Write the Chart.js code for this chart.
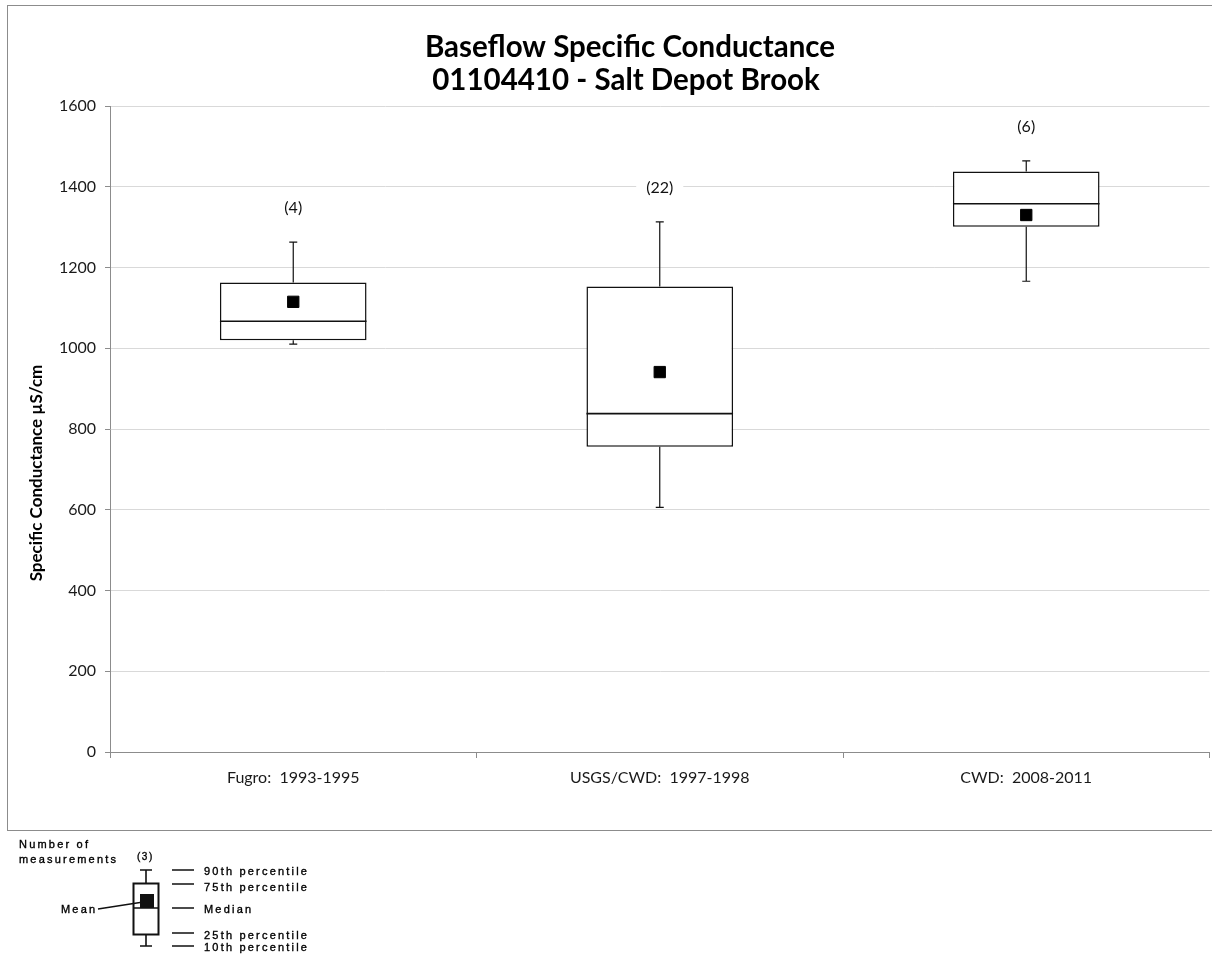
<!DOCTYPE html>
<html>
<head>
<meta charset="utf-8">
<title>Baseflow Specific Conductance</title>
<script src="https://cdn.jsdelivr.net/npm/chart.js@4/dist/chart.umd.min.js"></script>
<style>
  html, body { margin: 0; padding: 0; background: #fff; overflow: hidden; }
  canvas { display: block; }
</style>
</head>
<body>
<canvas id="boxChart" width="1212" height="959"></canvas>
<script>
// sampling periods
const categories = ["Fugro:  1993-1995", "USGS/CWD:  1997-1998", "CWD:  2008-2011"];

// percentiles (µS/cm)
const p10 = [1010, 606, 1166];
const p25 = [1020, 756, 1301];
const p50 = [1067, 838, 1358];
const p75 = [1163, 1153, 1438];
const p90 = [1263, 1313, 1464];
const means = [1115, 941, 1330];

// number of measurements per period
const counts = [4, 22, 6];

const yMin = 0;
const yMax = 1600;
const yStep = 200;

const titleLines = ["Baseflow Specific Conductance", "01104410 - Salt Depot Brook"];
const yTitle = "Specific Conductance µS/cm";

// whiskers, median line and sample counts on top of the boxes
const boxExtras = {
    id: "boxExtras",
    afterDatasetsDraw(chart) {
        const ctx = chart.ctx;
        const y = chart.scales.y;
        const meta = chart.getDatasetMeta(0);
        ctx.save();
        meta.data.forEach((bar, i) => {
            const cx = bar.x;
            const half = bar.width / 2;
            const yTop = y.getPixelForValue(p90[i]);
            const yBot = y.getPixelForValue(p10[i]);
            const yQ3 = y.getPixelForValue(p75[i]);
            const yQ1 = y.getPixelForValue(p25[i]);
            const yMed = y.getPixelForValue(p50[i]);

            ctx.strokeStyle = "#111";
            ctx.lineWidth = 1.2;
            ctx.beginPath();
            ctx.moveTo(cx, yQ3); ctx.lineTo(cx, yTop);
            ctx.moveTo(cx - 4, yTop); ctx.lineTo(cx + 4, yTop);
            ctx.moveTo(cx, yQ1); ctx.lineTo(cx, yBot);
            ctx.moveTo(cx - 4, yBot); ctx.lineTo(cx + 4, yBot);
            ctx.stroke();

            ctx.lineWidth = 1.6;
            ctx.beginPath();
            ctx.moveTo(cx - half, yMed); ctx.lineTo(cx + half, yMed);
            ctx.stroke();

            // count label, with a white patch so gridlines don't run through it
            const label = "(" + counts[i] + ")";
            ctx.font = '16px Lato';
            const w = ctx.measureText(label).width;
            const ly = yTop - 34;
            ctx.fillStyle = "#fff";
            ctx.fillRect(cx - w / 2 - 10, ly - 9, w + 20, 18);
            ctx.fillStyle = "#111";
            ctx.textAlign = "center";
            ctx.textBaseline = "middle";
            ctx.fillText(label, cx, ly);
        });
        ctx.restore();
    }
};

// white page, outer frame, titles and the key underneath
const frame = {
    id: "frame",
    beforeDraw(chart) {
        const ctx = chart.ctx;
        ctx.save();
        ctx.fillStyle = "#fff";
        ctx.fillRect(0, 0, chart.width, chart.height);
        ctx.strokeStyle = "#8c8c8c";
        ctx.lineWidth = 1;
        ctx.strokeRect(7.5, 5.5, chart.width + 40, 825);
        ctx.restore();
    },
    afterDraw(chart) {
        const ctx = chart.ctx;
        ctx.save();
        ctx.fillStyle = "#000";
        ctx.font = 'bold 29.5px Lato';
        ctx.textAlign = "center";
        ctx.textBaseline = "alphabetic";
        ctx.fillText(titleLines[0], 630, 57);
        ctx.fillText(titleLines[1], 626, 90);

        // axis title sits a little below the plot's middle
        ctx.translate(42, 473);
        ctx.rotate(-Math.PI / 2);
        ctx.font = 'bold 17px Lato';
        ctx.fillText(yTitle, 0, 0);
        ctx.restore();
        drawKey(ctx);
    }
};

function drawKey(ctx) {
    ctx.save();
    ctx.fillStyle = "#000";
    ctx.strokeStyle = "#000";
    ctx.lineWidth = 0.35;
    ctx.font = '11px "Liberation Sans"';
    ctx.letterSpacing = "2.2px";
    ctx.textAlign = "left";
    ctx.textBaseline = "alphabetic";
    const text = (s, x, y) => { ctx.fillText(s, x, y); ctx.strokeText(s, x, y); };
    text("Number of", 19, 848);
    text("measurements", 19, 862.5);
    text("Mean", 61, 913);
    text("90th percentile", 204, 875);
    text("75th percentile", 204, 890.5);
    text("Median", 204, 913);
    text("25th percentile", 204, 939);
    text("10th percentile", 204, 951);
    ctx.font = '10px "Liberation Sans"';
    ctx.letterSpacing = "1.5px";
    text("(3)", 137, 860);

    ctx.strokeStyle = "#111";
    ctx.lineWidth = 1.6;
    ctx.beginPath();
    ctx.moveTo(140, 870); ctx.lineTo(152, 870);
    ctx.moveTo(146, 870); ctx.lineTo(146, 883);
    ctx.moveTo(146, 934); ctx.lineTo(146, 946);
    ctx.moveTo(140, 946); ctx.lineTo(152, 946);
    ctx.moveTo(133.5, 908); ctx.lineTo(158.5, 908);
    ctx.stroke();
    ctx.lineWidth = 2;
    ctx.strokeRect(133.5, 883.5, 25, 51);
    ctx.fillStyle = "#111";
    ctx.fillRect(140, 894, 14, 14);

    ctx.lineWidth = 1.3;
    ctx.beginPath();
    ctx.moveTo(98, 909); ctx.lineTo(140, 902.5);
    [870, 884, 908, 933, 946].forEach(v => {
        ctx.moveTo(172, v); ctx.lineTo(194, v);
    });
    ctx.stroke();
    ctx.restore();
}

const ctx = document.getElementById("boxChart").getContext("2d");

new Chart(ctx, {
    type: "bar",
    data: {
        labels: categories,
        datasets: [
            {
                // interquartile box
                type: "bar",
                data: categories.map((_, i) => [p25[i], p75[i]]),
                backgroundColor: "#fff",
                borderColor: "#111",
                borderWidth: 1.5,
                borderSkipped: false,
                barPercentage: 0.4,
                categoryPercentage: 1,
                order: 2
            },
            {
                // mean
                type: "line",
                data: means,
                showLine: false,
                pointStyle: "rect",
                pointRadius: 8,
                pointBackgroundColor: "#000",
                pointBorderColor: "#000",
                pointBorderWidth: 1,
                order: 1
            }
        ]
    },
    options: {
        responsive: false,
        animation: false,
        events: [],
        layout: {
            autoPadding: false,
            padding: { left: 0, top: 106, right: 2.5, bottom: 150 }
        },
        plugins: {
            legend: { display: false },
            tooltip: { enabled: false },
            title: { display: false }
        },
        scales: {
            x: {
                offset: true,
                grid: {
                    offset: true,
                    drawOnChartArea: false,
                    drawTicks: true,
                    tickLength: 6,
                    tickColor: "#8c8c8c"
                },
                border: { color: "#8c8c8c", width: 1 },
                ticks: {
                    color: "#1a1a1a",
                    font: { family: "Lato", size: 16 },
                    padding: 10,
                    maxRotation: 0
                },
                afterFit(scale) {
                    scale.height = 57;
                    scale.paddingLeft = 0;
                    scale.paddingRight = 0;
                }
            },
            y: {
                min: yMin,
                max: yMax,
                ticks: {
                    stepSize: yStep,
                    color: "#1a1a1a",
                    font: { family: "Lato", size: 16 },
                    padding: 9,
                    callback: (v) => String(v)
                },
                grid: {
                    color: "#d9d9d9",
                    tickColor: "#8c8c8c",
                    tickLength: 5
                },
                border: { color: "#8c8c8c", width: 1 },
                afterFit(scale) {
                    scale.width = 110;
                    scale.paddingTop = 0;
                    scale.paddingBottom = 0;
                }
            }
        }
    },
    plugins: [frame, boxExtras]
});
</script>
</body>
</html>
